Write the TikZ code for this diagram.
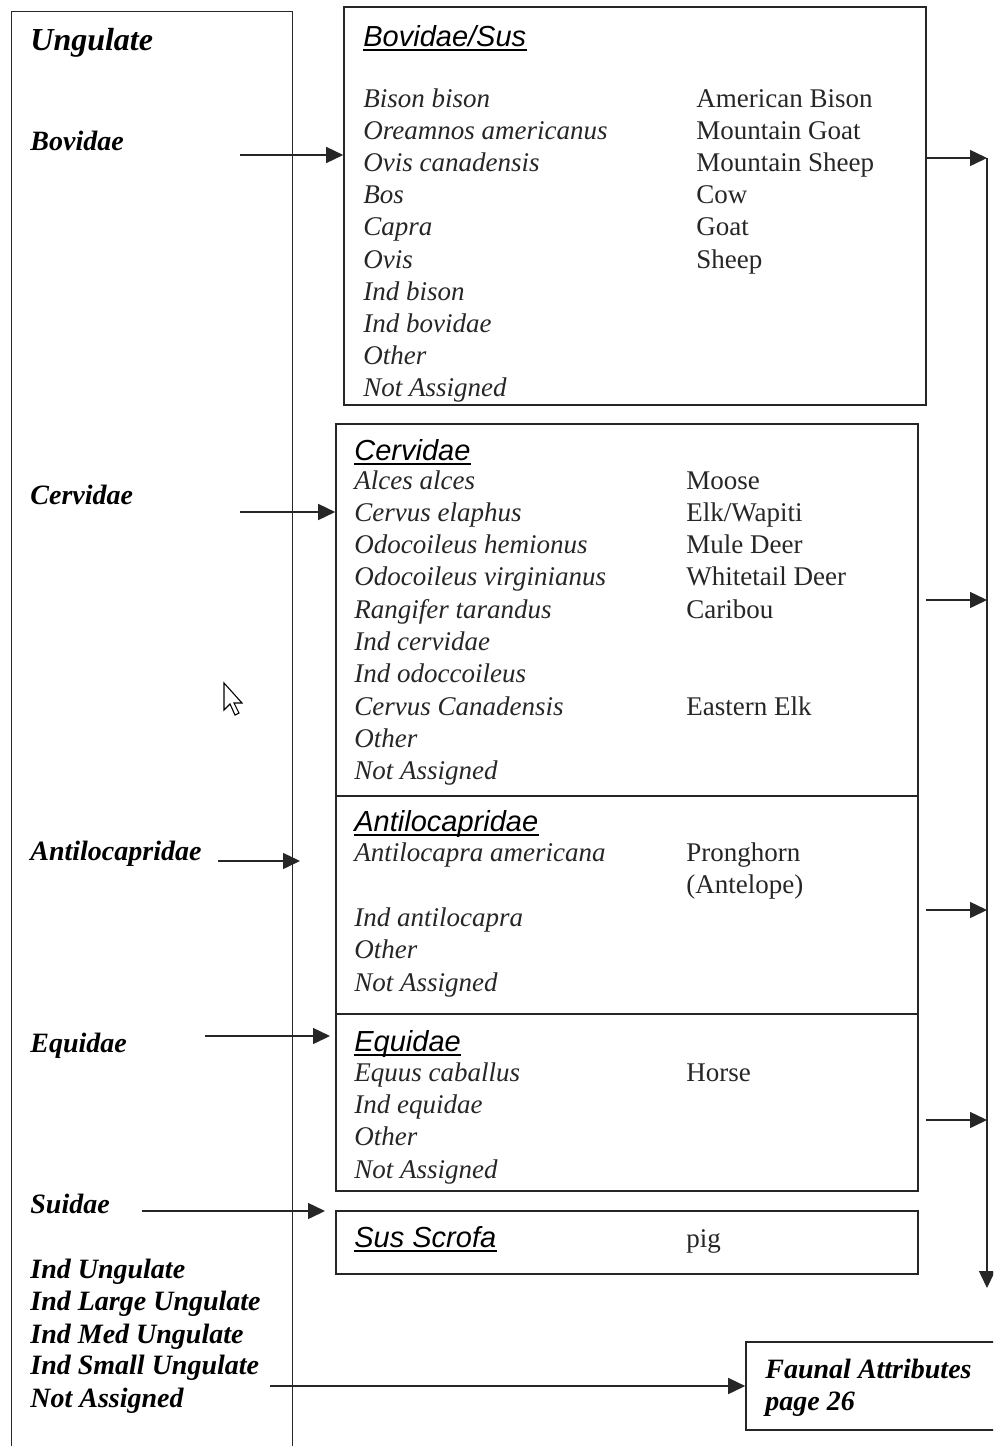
\documentclass[tikz,border=0pt]{standalone}
\usepackage{fontspec}
\setmainfont{Liberation Serif}
\setsansfont{Liberation Sans}
\usetikzlibrary{arrows.meta,fit}
\begin{document}
\begin{tikzpicture}[x=0.5pt,y=-0.5pt]
\tikzset{
 frame/.style={draw=black!85, line width=0.8pt, inner sep=0pt},
 lst/.style={anchor=base west, inner sep=0pt, font=\fontsize{13.5}{16}\selectfont\itshape, text=black!85},
 com/.style={anchor=base west, inner sep=0pt, font=\fontsize{13.5}{16}\selectfont, text=black!85},
 ttl/.style={anchor=base west, inner sep=0pt, font=\sffamily\itshape\fontsize{14.5}{17}\selectfont},
 lbl/.style={anchor=base west, inner sep=0pt, font=\bfseries\itshape\fontsize{14}{17}\selectfont},
 arr/.style={-{Triangle[length=8.5pt,width=8pt]}, line width=0.75pt, draw=black!85},
 uline/.style={line width=1pt}
}
\useasboundingbox (0,0) rectangle (993,1446);
\clip (0,0) rectangle (993,1446);

% Ungulate column (open at the bottom)
\node[inner sep=0pt, fit={(12,12)(292,1452)}] (ung) {};
\draw[frame] (ung.south west) -- (ung.north west) -- (ung.north east) -- (ung.south east);

% boxes
\node[frame, fit={(344,7)(926,405)}] (bov) {};
\node[frame, fit={(336,424)(918,796)}] (cer) {};
\node[frame, fit={(336,796)(918,1014)}] (ant) {};
\node[frame, fit={(336,1014)(918,1191)}] (equ) {};
\node[frame, fit={(336,1211)(918,1274)}] (sus) {};
\node[frame, fit={(746,1342)(1010,1430)}] (fa) {};

% left labels
\node[lbl, font=\bfseries\itshape\fontsize{16}{19}\selectfont] (lung) at (30,50) {Ungulate};
\node[lbl] (lbov) at (30,150) {Bovidae};
\node[lbl] (lcer) at (30,504) {Cervidae};
\node[lbl] (lant) at (30,860) {Antilocapridae};
\node[lbl] (lequ) at (30,1052) {Equidae};
\node[lbl] (lsui) at (30,1213) {Suidae};
\node[lbl] (lind1) at (30,1278) {Ind Ungulate};
\node[lbl] (lind2) at (30,1310) {Ind Large Ungulate};
\node[lbl] (lind3) at (30,1343) {Ind Med Ungulate};
\node[lbl] (lind4) at (30,1374) {Ind Small Ungulate};
\node[lbl] (lna) at (30,1407) {Not Assigned};

% titles
\node[ttl] (tbov) at (363,46) {Bovidae/Sus};
\node[ttl] (tcer) at (354,460) {Cervidae};
\node[ttl] (tant) at (354,831) {Antilocapridae};
\node[ttl] (tequ) at (354,1051) {Equidae};
\node[ttl] (tsus) at (354,1247) {Sus Scrofa};
\foreach \t in {tbov,tcer,tant,tequ,tsus}
  \draw[uline] ([yshift=-2.2pt]\t.base west) -- ([yshift=-2.2pt]\t.base east);

% Bovidae/Sus list
\foreach \s [count=\i] in {Bison bison, Oreamnos americanus, Ovis canadensis, Bos, Capra, Ovis, Ind bison, Ind bovidae, Other, Not Assigned}
  \node[lst] (bl\i) at (363,{107+32.2*(\i-1)}) {\s};
\foreach \s [count=\i] in {American Bison, Mountain Goat, Mountain Sheep, Cow, Goat, Sheep}
  \node[com] (bc\i) at (696,{107+32.2*(\i-1)}) {\s};

% Cervidae list
\foreach \s [count=\i] in {Alces alces, Cervus elaphus, Odocoileus hemionus, Odocoileus virginianus, Rangifer tarandus, Ind cervidae, Ind odoccoileus, Cervus Canadensis, Other, Not Assigned}
  \node[lst] (cl\i) at (354,{489+32.3*(\i-1)}) {\s};
\foreach \s [count=\i] in {Moose, Elk/Wapiti, Mule Deer, Whitetail Deer, Caribou}
  \node[com] (cc\i) at (686,{489+32.3*(\i-1)}) {\s};
\node[com] (cc8) at (686,715) {Eastern Elk};

% Antilocapridae list
\node[lst] (al1) at (354,861) {Antilocapra americana};
\node[lst] (al2) at (354,926) {Ind antilocapra};
\node[lst] (al3) at (354,958) {Other};
\node[lst] (al4) at (354,991) {Not Assigned};
\node[com] (ac1) at (686,861) {Pronghorn};
\node[com] (ac2) at (686,893) {(Antelope)};

% Equidae list
\foreach \s [count=\i] in {Equus caballus, Ind equidae, Other, Not Assigned}
  \node[lst] (el\i) at (354,{1081+32.4*(\i-1)}) {\s};
\node[com] (ec1) at (686,1081) {Horse};

% Sus Scrofa
\node[com] (sc1) at (686,1247) {pig};

% Faunal attributes
\node[lbl] (fa1) at (765,1378) {Faunal Attributes};
\node[lbl] (fa2) at (765,1410) {page 26};

% left arrows
\coordinate (s1) at (240,155);
\coordinate (s2) at (240,512);
\coordinate (s3) at (218,861);  \coordinate (e3) at (300,861);
\coordinate (s4) at (205,1036); \coordinate (e4) at (330,1036);
\coordinate (s5) at (142,1211); \coordinate (e5) at (325,1211);
\coordinate (s6) at (270,1386);
\draw[arr] (s1) -- (s1 -| bov.west);
\draw[arr] (s2) -- (s2 -| cer.west);
\draw[arr] (s3) -- (e3);
\draw[arr] (s4) -- (e4);
\draw[arr] (s5) -- (e5);
\draw[arr] (s6) -- (s6 -| fa.west);

% right collector
\coordinate (rtop) at (987,158);
\coordinate (rbot) at (987,1288);
\coordinate (r2) at (926,600);
\coordinate (r3) at (926,910);
\coordinate (r4) at (926,1120);
\draw[arr] (rtop -| bov.east) -- (rtop);
\draw[arr] (r2) -- (r2 -| rtop);
\draw[arr] (r3) -- (r3 -| rtop);
\draw[arr] (r4) -- (r4 -| rtop);
\draw[arr] (rtop) -- (rbot);

% mouse cursor
\draw[line width=0.55pt, fill=white, shift={(224,683)}]
  (0,0) -- (0,27) -- (6,21) -- (11,32) -- (15,30) -- (10,20) -- (18,20) -- cycle;
\end{tikzpicture}
\end{document}
